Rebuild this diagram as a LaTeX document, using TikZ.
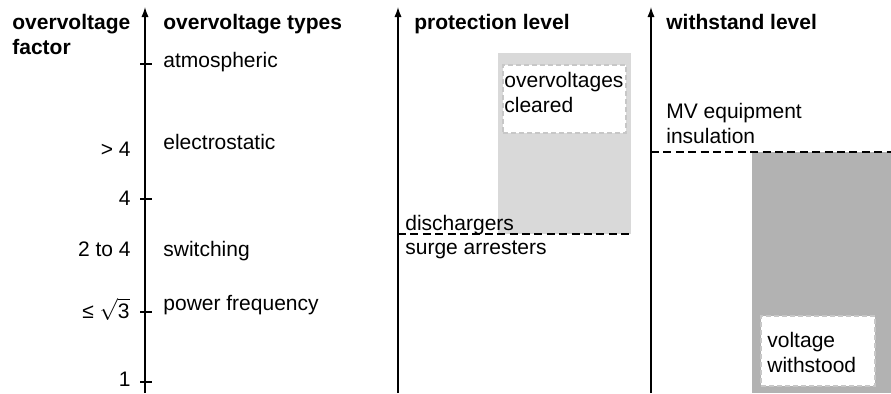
\documentclass[tikz,border=0pt]{standalone}
\usepackage{fontspec}
\setmainfont{Liberation Sans}
\usetikzlibrary{arrows.meta}
\newcommand{\picfont}{\fontsize{10.5}{12.5}\selectfont}
\tikzset{
  lbl/.style={anchor=base west,inner sep=0},
  val/.style={anchor=base east,inner sep=0},
  head/.style={anchor=north west,inner sep=0,align=left,font=\picfont\bfseries},
  txt/.style={anchor=north west,inner sep=0,align=left},
  axis/.style={line width=0.65pt,-{Latex[length=5pt,width=3.6pt]}},
  level/.style={line width=0.75pt,dash pattern=on 4pt off 2.2pt},
  area/.style={anchor=north west,inner sep=0,outer sep=0},
  clearbox/.style={area,draw=black!22,fill=white,line width=0.8pt,dash pattern=on 2.5pt off 1.5pt},
}
\begin{document}
\begin{tikzpicture}[x=0.5pt,y=-0.5pt,font=\picfont]
  \useasboundingbox (0,0) rectangle (891,393);

  % shaded areas
  \node (clr) at (498,53) [area,fill=black!15,minimum width=66.5pt,minimum height=90.5pt]{};
  \node (wst) at (752,152) [area,fill=black!30,minimum width=69.5pt,minimum height=120.5pt]{};
  \node (clrbox) at (503,65) [clearbox,minimum width=61.5pt,minimum height=34pt]{};
  \node (wstbox) at (761,316) [clearbox,minimum width=57pt,minimum height=35pt]{};

  % axes
  \coordinate (ax1b) at (145,393);
  \coordinate (ax1t) at (145,7);
  \coordinate (ax2b) at (398,393);
  \coordinate (ax2t) at (398,7);
  \coordinate (ax3b) at (651,393);
  \coordinate (ax3t) at (651,7);
  \draw[axis] (ax1b) -- (ax1t);
  \draw[axis] (ax2b) -- (ax2t);
  \draw[axis] (ax3b) -- (ax3t);
  \foreach \y in {64,199,312,382}
    \draw[line width=0.65pt] (140,\y) -- (152,\y);

  % levels
  \draw[level] (clr.south -| ax2b) -- (clr.south east);
  \draw[level] (wst.north -| ax3b) -- (wst.north east);

  % headings
  \node (hfac) at (12,14) [head]{overvoltage\\factor};
  \node (htyp) at (163,14) [head]{overvoltage types};
  \node (hpro) at (414,14) [head]{protection level};
  \node (hwit) at (666,14) [head]{withstand level};

  % factors and types
  \node (atm) at (163,67) [lbl]{atmospheric};
  \node (ele) at (163,149) [lbl]{electrostatic};
  \node (gt4) at (131,156) [val]{> 4};
  \node (f4) at (131,205) [val]{4};
  \node (f24) at (131,256) [val]{2 to 4};
  \node (swi) at (163,256) [lbl]{switching};
  \node (fs3) at (130,318) [val]{≤ $\sqrt{\mbox{3}}$};
  \node (pow) at (163,310) [lbl]{power frequency};
  \node (f1) at (131,386) [val]{1};

  % protection and withstand
  \node (dis) at (405,230) [lbl]{dischargers};
  \node (sur) at (405,254) [lbl]{surge arresters};
  \node (clrtxt) at (clrbox.north west) [txt,xshift=0.5pt,yshift=-3.5pt]{overvoltages\\cleared};
  \node (mv) at (666,103) [txt]{MV equipment\\insulation};
  \node (wsttxt) at (wstbox.north west) [txt,xshift=3pt,yshift=-8pt]{voltage\\withstood};

\end{tikzpicture}
\end{document}
